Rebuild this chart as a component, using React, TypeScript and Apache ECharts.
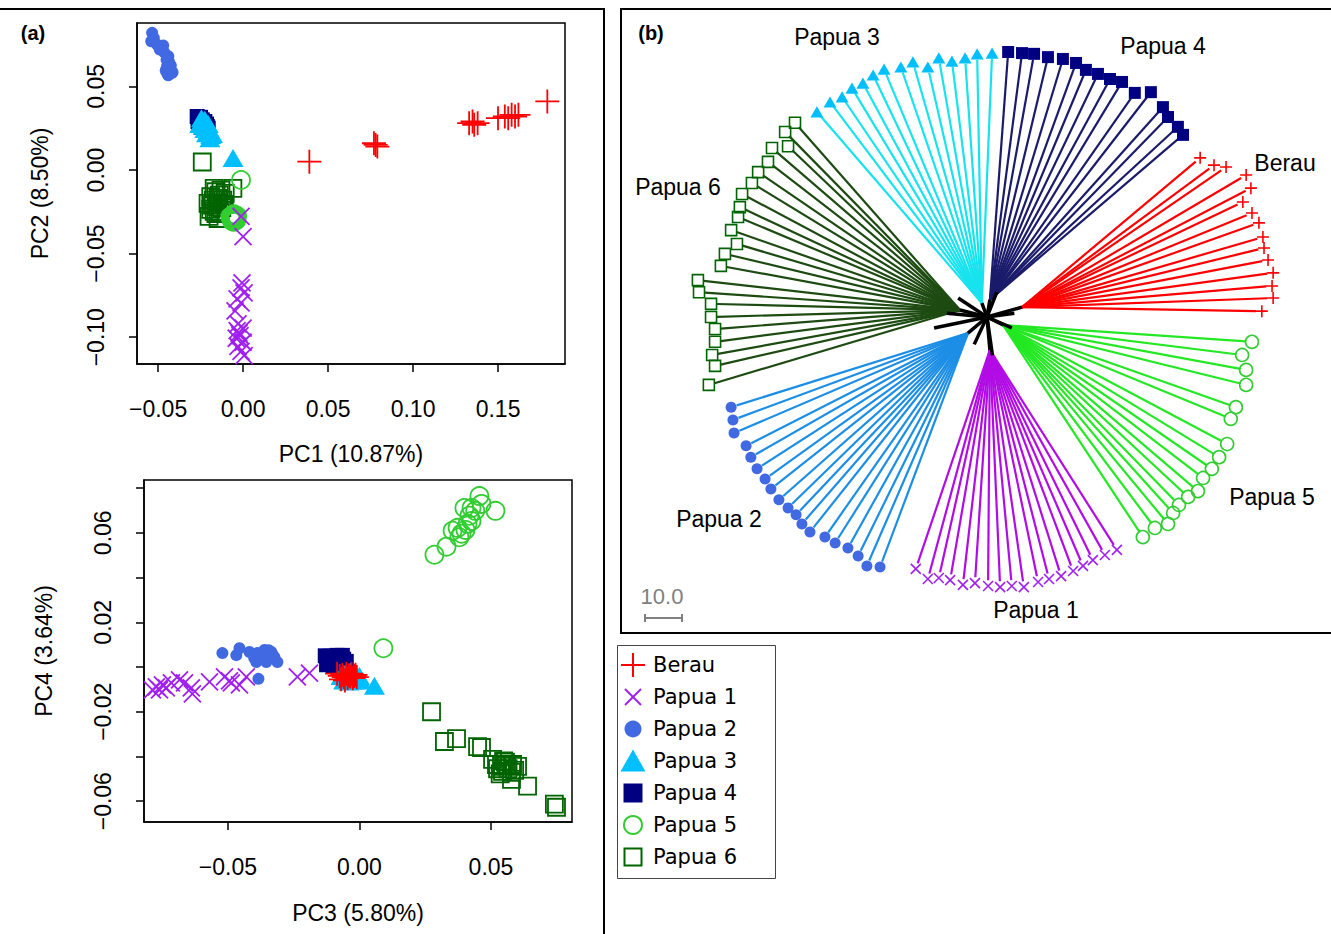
import React, { useEffect, useRef } from "react";
import * as echarts from "echarts";

// ---------------- groups ----------------
const GROUP_NAMES = ["Berau", "Papua 1", "Papua 2", "Papua 3", "Papua 4", "Papua 5", "Papua 6"];
const POINT_COLORS = ["#FF0000", "#A020F0", "#4169E1", "#00BFFF", "#000080", "#32CD32", "#006400"];
const BRANCH_COLORS = ["#FF0000", "#B20CE6", "#1C8EE6", "#17E3EE", "#1B1B6B", "#23E823", "#1D4B12"];
const SYMBOL_KINDS = ["plus", "cross", "circle", "triangle", "square", "ocircle", "osquare"];
const DRAW_ORDER = [4, 6, 2, 3, 5, 1, 0];

// ---------------- PCA: PC1 / PC2 ----------------
const berauPC12 = [[0.039,0.005],[0.077,0.016],[0.079,0.014],[0.078,0.015],[0.133,0.028],[0.136,0.027],[0.138,0.028],[0.135,0.029],[0.150,0.031],[0.154,0.032],[0.156,0.031],[0.158,0.033],[0.160,0.032],[0.162,0.033],[0.179,0.041]];
const papua1PC12 = [[-0.0012,-0.0277],[0.0,-0.0398],[-0.0006,-0.0675],[-0.0012,-0.0705],[0.0006,-0.0735],[-0.0035,-0.077],[-0.0012,-0.0795],[-0.0047,-0.0843],[-0.003,-0.092],[0.0,-0.0946],[-0.0024,-0.0976],[-0.004,-0.1006],[0.0,-0.103],[-0.003,-0.1054],[-0.0012,-0.1084],[0.0006,-0.111],[-0.0018,-0.099],[-0.0035,-0.096]];
const papua2PC12 = [[-0.0535,0.082],[-0.054,0.077],[-0.0506,0.075],[-0.048,0.0735],[-0.0465,0.0705],[-0.044,0.068],[-0.0435,0.0645],[-0.0447,0.062],[-0.042,0.058],[-0.044,0.0566],[-0.0525,0.079],[-0.049,0.072],[-0.045,0.066],[-0.043,0.060],[-0.0455,0.0595],[-0.047,0.0745],[-0.0425,0.0625],[-0.0445,0.0575],[-0.0415,0.0585]];
const papua3PC12 = [[-0.0245,0.031],[-0.0235,0.029],[-0.022,0.028],[-0.0255,0.0275],[-0.021,0.026],[-0.0225,0.0245],[-0.020,0.023],[-0.019,0.021],[-0.0215,0.022],[-0.0195,0.019],[-0.0235,0.0265],[-0.0205,0.0275],[-0.0225,0.030],[-0.018,0.0215],[-0.0059,0.0072]];
const papua4PC12 = [[-0.027,0.032],[-0.026,0.031],[-0.025,0.0315],[-0.0265,0.029],[-0.024,0.030],[-0.0255,0.027],[-0.023,0.028],[-0.022,0.0265],[-0.021,0.026],[-0.0245,0.0255],[-0.026,0.0285],[-0.0225,0.029],[-0.0235,0.027],[-0.0215,0.0275],[-0.025,0.030],[-0.0205,0.025]];
const papua5PC12 = [[-0.0012,-0.006],[-0.0055,-0.028],[-0.0045,-0.027],[-0.006,-0.0295],[-0.005,-0.030],[-0.0065,-0.0275],[-0.004,-0.0285],[-0.0055,-0.0265],[-0.007,-0.029],[-0.0035,-0.0275],[-0.005,-0.0285],[-0.006,-0.027],[-0.0045,-0.0295],[-0.0075,-0.028],[-0.004,-0.030],[-0.0055,-0.031],[-0.0065,-0.0305]];
const papua6PC12 = [[-0.024,0.0048],[-0.017,-0.011],[-0.006,-0.011],[-0.0206,-0.020],[-0.0147,-0.017],[-0.017,-0.0247],[-0.020,-0.0277],[-0.011,-0.0205],[-0.0147,-0.029],[-0.016,-0.013],[-0.013,-0.012],[-0.019,-0.016],[-0.018,-0.021],[-0.015,-0.022],[-0.012,-0.018],[-0.016,-0.026],[-0.0135,-0.0255],[-0.019,-0.0235],[-0.0125,-0.0225],[-0.014,-0.015],[-0.0175,-0.018],[-0.0155,-0.0195],[-0.0105,-0.014]];

// ---------------- PCA: PC3 / PC4 ----------------
const berauPC34 = [[-0.0085,-0.003],[-0.0075,-0.004],[-0.0065,-0.0035],[-0.006,-0.0045],[-0.005,-0.003],[-0.0045,-0.005],[-0.004,-0.0038],[-0.0035,-0.0042],[-0.003,-0.003],[-0.0025,-0.005],[-0.002,-0.004],[-0.0015,-0.0035],[-0.001,-0.0045],[-0.0055,-0.006],[-0.007,-0.0055]];
const papua1PC34 = [[-0.0772,-0.0089],[-0.076,-0.0102],[-0.0749,-0.008],[-0.0734,-0.0093],[-0.0684,-0.0058],[-0.0665,-0.0071],[-0.0639,-0.0093],[-0.0635,-0.012],[-0.057,-0.0067],[-0.0513,-0.0044],[-0.0494,-0.0062],[-0.0456,-0.008],[-0.043,-0.0044],[-0.0236,-0.0044],[-0.019,-0.0027],[-0.0787,-0.0102],[-0.0715,-0.0071],[-0.0487,-0.0071]];
const papua2PC34 = [[-0.0521,0.0062],[-0.0468,0.0053],[-0.0456,0.0084],[-0.0418,0.0067],[-0.0388,0.0062],[-0.0361,0.0076],[-0.0335,0.0067],[-0.0323,0.0044],[-0.0354,0.0022],[-0.0392,0.0022],[-0.0312,0.0022],[-0.0384,-0.0053],[-0.037,0.005],[-0.034,0.004],[-0.036,0.0065],[-0.033,0.0055],[-0.040,0.004],[-0.0345,0.0075],[-0.0375,0.0035]];
const papua3PC34 = [[-0.007,-0.004],[-0.006,-0.006],[-0.005,-0.005],[-0.004,-0.0065],[-0.003,-0.0055],[-0.002,-0.006],[-0.001,-0.005],[0.0,-0.004],[-0.0035,-0.002],[-0.0055,-0.003],[-0.0015,-0.003],[0.0005,-0.006],[-0.0045,-0.0045],[-0.0025,-0.0045],[0.0057,-0.0084]];
const papua4PC34 = [[-0.013,0.005],[-0.012,0.0035],[-0.011,0.0048],[-0.0105,0.002],[-0.0095,0.004],[-0.009,0.001],[-0.008,0.003],[-0.0075,0.0045],[-0.007,0.0015],[-0.006,0.0035],[-0.0055,0.001],[-0.005,0.0025],[-0.0125,0.001],[-0.0085,0.0052],[-0.0065,0.0052],[-0.01,0.0005]];
const papua5PC34 = [[0.0285,0.0502],[0.0331,0.0538],[0.0354,0.0609],[0.0388,0.0596],[0.0373,0.0622],[0.0411,0.064],[0.0426,0.0653],[0.0399,0.0711],[0.0426,0.0711],[0.0456,0.0764],[0.0464,0.0729],[0.0517,0.0698],[0.0091,0.0084],[0.038,0.058],[0.0403,0.0613],[0.0418,0.0676],[0.044,0.0698]];
const papua6PC34 = [[0.0274,-0.020],[0.0323,-0.0333],[0.0369,-0.032],[0.0449,-0.0356],[0.0464,-0.036],[0.0506,-0.0413],[0.0521,-0.0436],[0.054,-0.0444],[0.0559,-0.0436],[0.0582,-0.0436],[0.0601,-0.0444],[0.0544,-0.0467],[0.0578,-0.0471],[0.0578,-0.0502],[0.0639,-0.0533],[0.0741,-0.0613],[0.0749,-0.0627],[0.0525,-0.0455],[0.0565,-0.0455],[0.0555,-0.0425],[0.0535,-0.0478],[0.059,-0.0462],[0.0548,-0.042]];

// ---------------- axes ----------------
const AXIS_TITLES = ["PC1 (10.87%)", "PC2 (8.50%)", "PC3 (5.80%)", "PC4 (3.64%)"];
const PC1_TICKS = [-0.05, 0, 0.05, 0.1, 0.15];
const PC2_TICKS = [-0.1, -0.05, 0, 0.05];
const PC3_TICKS = [-0.05, 0, 0.05];
const PC4_TICKS = [-0.06, -0.04, -0.02, 0, 0.02, 0.04, 0.06, 0.08];
const PC4_LABELS = [-0.06, -0.02, 0.02, 0.06];

// ---------------- tree (branch-length units) ----------------
const TREE_ROOT = [0, 0];
const TREE_NODES = [[9.6,2.7],[0.8,-9.0],[-5.2,-4.4],[-1.4,3.8],[0.8,4.7],[4.4,-2.2],[-7.4,1.9]];
const TREE_STUBS = [[-14.5,-3.0],[-7.9,5.2],[2.7,6.8],[6.8,-3.0],[-3.5,-7.5],[-11.0,1.0],[1.5,-10.5],[7.5,1.0]];
const berauTips = [[58.4,43.6],[62.2,41.6],[65.5,41.1],[71.0,38.9],[72.3,35.3],[70.1,31.5],[72.6,28.5],[74.5,25.8],[75.6,21.9],[75.9,18.9],[77.0,15.6],[78.4,12.1],[78.1,8.5],[78.4,5.2],[75.3,1.6]];
const papua1Tips = [[-19.5,-69.0],[-16.2,-71.8],[-13.2,-71.5],[-10.1,-72.1],[-6.6,-73.4],[-3.3,-72.9],[0.3,-73.7],[3.6,-74.0],[6.8,-73.7],[10.1,-74.0],[14.0,-72.6],[17.0,-71.8],[20.3,-71.0],[23.6,-69.6],[26.3,-68.2],[29.0,-66.6],[32.3,-65.2],[35.6,-63.8]];
const papua2Tips = [[-70.1,-24.7],[-69.6,-28.2],[-69.3,-31.8],[-66.0,-35.3],[-64.7,-38.4],[-63.0,-41.6],[-60.8,-44.4],[-59.2,-47.1],[-57.0,-50.1],[-54.5,-52.3],[-52.3,-54.2],[-50.7,-56.7],[-48.5,-58.9],[-44.4,-60.3],[-41.6,-61.9],[-38.1,-63.3],[-35.3,-65.5],[-32.9,-68.2],[-29.3,-68.5]];
const papua3Tips = [[-46.6,56.2],[-43.0,58.9],[-39.7,60.3],[-37.0,62.7],[-34.0,64.1],[-31.2,66.3],[-28.2,67.9],[-23.6,68.5],[-20.3,69.9],[-16.2,68.5],[-13.2,71.0],[-9.6,70.1],[-6.0,71.0],[-2.7,72.1],[1.4,72.3]];
const papua4Tips = [[5.8,72.6],[9.6,72.3],[12.9,72.1],[16.7,71.2],[20.8,70.7],[24.4,69.6],[27.1,67.7],[30.4,66.6],[33.7,65.2],[37.0,64.4],[40.5,61.4],[44.9,61.6],[48.2,57.5],[49.6,54.8],[52.3,52.1],[53.7,49.9]];
const papua5Tips = [[72.6,-6.8],[69.9,-10.4],[71.0,-14.5],[71.0,-18.6],[68.2,-24.7],[66.8,-27.9],[65.8,-34.8],[63.6,-38.4],[61.6,-41.6],[59.2,-44.1],[57.8,-47.7],[55.1,-49.3],[52.6,-51.5],[51.0,-53.7],[49.6,-56.7],[46.0,-57.8],[42.7,-60.3]];
const papua6Tips = [[-52.6,53.2],[-55.3,50.7],[-54.5,46.8],[-58.9,46.3],[-60.0,42.5],[-62.7,39.7],[-64.4,36.7],[-67.1,33.7],[-67.7,30.1],[-68.2,27.4],[-70.1,23.8],[-68.5,20.0],[-71.8,17.3],[-72.9,14.0],[-79.2,10.1],[-78.9,6.8],[-75.6,3.6],[-75.6,0.0],[-74.5,-3.3],[-74.5,-6.8],[-75.3,-10.4],[-74.5,-13.4],[-76.2,-18.6]];
const SCALE_BAR_LENGTH = 10;
const SCALE_BAR_LABEL = "10.0";

const PC12 = [berauPC12, papua1PC12, papua2PC12, papua3PC12, papua4PC12, papua5PC12, papua6PC12];
const PC34 = [berauPC34, papua1PC34, papua2PC34, papua3PC34, papua4PC34, papua5PC34, papua6PC34];
const TIPS = [berauTips, papua1Tips, papua2Tips, papua3Tips, papua4Tips, papua5Tips, papua6Tips];

// ---------------- styling helpers ----------------
const FONT = '"Liberation Sans", Arial, Helvetica, sans-serif';
const LEGEND_FONT = '"DejaVu Sans", Verdana, sans-serif';
const PLUS_PATH = "path://M0,5L10,5M5,0L5,10";
const CROSS_PATH = "path://M0,0L10,10M10,0L0,10";

function symbolSpec(kind: string, color: string, s: number, lw: number) {
  const open = { color: "rgba(0,0,0,0)", borderColor: color, borderWidth: lw, opacity: 1 };
  const filled = { color, opacity: 1 };
  switch (kind) {
    case "plus": return { symbol: PLUS_PATH, symbolSize: s, itemStyle: open };
    case "cross": return { symbol: CROSS_PATH, symbolSize: s, itemStyle: open };
    case "circle": return { symbol: "circle", symbolSize: s, itemStyle: filled };
    case "triangle": return { symbol: "triangle", symbolSize: [s, s * 0.86], itemStyle: filled };
    case "square": return { symbol: "rect", symbolSize: s, itemStyle: filled };
    case "ocircle": return { symbol: "circle", symbolSize: s, itemStyle: open };
    default: return { symbol: "rect", symbolSize: s, itemStyle: open };
  }
}
const SCATTER_SIZES: Record<string, number> = { plus: 24, cross: 17, circle: 12, triangle: 21, square: 15, ocircle: 18, osquare: 17 };
const TREE_SIZES: Record<string, number> = { plus: 12, cross: 10, circle: 11, triangle: 13, square: 12, ocircle: 13, osquare: 11 };

const fmt = (v: number) => (Math.abs(v) < 1e-9 ? "0.00" : (v < 0 ? "\u2212" : "") + Math.abs(v).toFixed(2));

function pcAxis(dim: "x" | "y", gridIndex: number, min: number, max: number, ticks: number[], labels: number[], title: string, nameGap: number) {
  return {
    type: "value", gridIndex, min, max,
    position: dim === "x" ? "bottom" : "left",
    axisLine: { show: true, onZero: false, lineStyle: { color: "#000", width: 1.5 } },
    axisTick: { show: true, length: 8, inside: false, customValues: ticks, lineStyle: { color: "#000", width: 1.5 } },
    axisLabel: { show: true, customValues: labels, margin: dim === "x" ? 33 : 30, rotate: dim === "y" ? 90 : 0, color: "#000", fontSize: 23, fontFamily: FONT, formatter: fmt },
    splitLine: { show: false },
    name: title, nameLocation: "middle", nameGap, nameRotate: dim === "y" ? 90 : 0,
    nameTextStyle: { color: "#000", fontSize: 23, fontFamily: FONT },
  };
}

function legendSymbol(kind: string, color: string, cx: number, cy: number): any[] {
  const lw = 2;
  switch (kind) {
    case "plus": return [
      { type: "line", shape: { x1: cx - 12, y1: cy, x2: cx + 12, y2: cy }, style: { stroke: color, lineWidth: lw } },
      { type: "line", shape: { x1: cx, y1: cy - 12, x2: cx, y2: cy + 12 }, style: { stroke: color, lineWidth: lw } }];
    case "cross": return [
      { type: "line", shape: { x1: cx - 8, y1: cy - 8, x2: cx + 8, y2: cy + 8 }, style: { stroke: color, lineWidth: lw } },
      { type: "line", shape: { x1: cx - 8, y1: cy + 8, x2: cx + 8, y2: cy - 8 }, style: { stroke: color, lineWidth: lw } }];
    case "circle": return [{ type: "circle", shape: { cx, cy, r: 8.5 }, style: { fill: color } }];
    case "triangle": return [{ type: "polygon", shape: { points: [[cx - 12.5, cy + 10.5], [cx + 12.5, cy + 10.5], [cx, cy - 11.5]] }, style: { fill: color } }];
    case "square": return [{ type: "rect", shape: { x: cx - 9.5, y: cy - 9.5, width: 19, height: 19 }, style: { fill: color } }];
    case "ocircle": return [{ type: "circle", shape: { cx, cy, r: 9 }, style: { fill: "none", stroke: color, lineWidth: lw } }];
    default: return [{ type: "rect", shape: { x: cx - 8.5, y: cy - 8.5, width: 17, height: 17 }, style: { fill: "none", stroke: color, lineWidth: lw } }];
  }
}

function txt(text: string, x: number, y: number, size: number, opts: any = {}) {
  return {
    type: "text", x, y, z: 10,
    style: {
      text, fill: opts.fill || "#000", fontSize: size, fontFamily: opts.family || FONT, fontWeight: opts.weight || "normal",
      align: opts.align || "center", verticalAlign: "middle", textAlign: opts.align || "center", textVerticalAlign: "middle",
    },
  };
}

export default function App() {
  const ref = useRef<HTMLDivElement>(null);
  useEffect(() => {
    if (!ref.current) return;
    const chart = echarts.init(ref.current, null, { renderer: "svg" });

    const series: any[] = [];
    // PCA scatter series
    DRAW_ORDER.forEach((g) => {
      const kind = SYMBOL_KINDS[g];
      const spec = symbolSpec(kind, POINT_COLORS[g], SCATTER_SIZES[kind], 1.8);
      series.push({ type: "scatter", name: GROUP_NAMES[g], xAxisIndex: 0, yAxisIndex: 0, data: PC12[g], silent: true, ...spec, z: 2 });
      series.push({ type: "scatter", name: GROUP_NAMES[g], xAxisIndex: 1, yAxisIndex: 1, data: PC34[g], silent: true, ...spec, z: 2 });
    });

    // tree terminal branches
    const TIP_GAP = 1.6;
    TIPS.forEach((tips, g) => {
      const node = TREE_NODES[g];
      const data = tips.map((t) => {
        const dx = t[0] - node[0], dy = t[1] - node[1];
        const L = Math.hypot(dx, dy);
        const end = [t[0] - (dx / L) * TIP_GAP, t[1] - (dy / L) * TIP_GAP];
        return { coords: [node, end] };
      });
      series.push({
        type: "lines", coordinateSystem: "cartesian2d", xAxisIndex: 2, yAxisIndex: 2, silent: true, z: 3,
        data, lineStyle: { color: BRANCH_COLORS[g], width: 2.2, opacity: 1 },
      });
    });
    // internal branches
    const internal = [...TREE_NODES, ...TREE_STUBS].map((n) => ({ coords: [TREE_ROOT, n] }));
    series.push({
      type: "lines", coordinateSystem: "cartesian2d", xAxisIndex: 2, yAxisIndex: 2, silent: true, z: 5,
      data: internal, lineStyle: { color: "#000", width: 3.5, opacity: 1 },
    });
    // tips
    TIPS.forEach((tips, g) => {
      const kind = SYMBOL_KINDS[g];
      const spec = symbolSpec(kind, POINT_COLORS[g], TREE_SIZES[kind], 1.6);
      series.push({ type: "scatter", xAxisIndex: 2, yAxisIndex: 2, data: tips, silent: true, z: 4, ...spec });
    });
    // scale bar (tree units)
    const sb = [-93.7, -82.5];
    const cap = 1.1;
    series.push({
      type: "lines", coordinateSystem: "cartesian2d", xAxisIndex: 2, yAxisIndex: 2, silent: true, z: 5,
      data: [
        { coords: [sb, [sb[0] + SCALE_BAR_LENGTH, sb[1]]] },
        { coords: [[sb[0], sb[1] - cap], [sb[0], sb[1] + cap]] },
        { coords: [[sb[0] + SCALE_BAR_LENGTH, sb[1] - cap], [sb[0] + SCALE_BAR_LENGTH, sb[1] + cap]] },
      ],
      lineStyle: { color: "#808080", width: 2, opacity: 1 },
    });

    // graphic: frames, labels, legend
    const graphics: any[] = [
      { type: "polyline", shape: { points: [[0, 9], [604, 9], [604, 940]] }, style: { stroke: "#000", lineWidth: 2, fill: "none" } },
      { type: "rect", shape: { x: 621, y: 9, width: 720, height: 624 }, style: { stroke: "#000", lineWidth: 2, fill: "none" } },
      txt("(a)", 33, 33, 20, { weight: "bold" }),
      txt("(b)", 651, 33, 20, { weight: "bold" }),
      txt(SCALE_BAR_LABEL, 662, 596, 22, { fill: "#808080" }),
    ];
    const treeLabelPos = [[1285, 163], [1036, 610], [719, 519], [837, 37], [1163, 46], [1272, 497], [678, 187]];
    GROUP_NAMES.forEach((n, g) => graphics.push(txt(n, treeLabelPos[g][0], treeLabelPos[g][1], 23)));
    graphics.push({ type: "rect", shape: { x: 617.5, y: 645.5, width: 158, height: 233 }, style: { stroke: "#444", lineWidth: 1, fill: "none" } });
    GROUP_NAMES.forEach((n, g) => {
      const cy = 665 + 32 * g;
      legendSymbol(SYMBOL_KINDS[g], POINT_COLORS[g], 633, cy).forEach((e) => graphics.push({ ...e, z: 10 }));
      graphics.push(txt(n, 653, cy, 21, { align: "left", family: LEGEND_FONT }));
    });

    const option: any = {
      animation: false,
      backgroundColor: "#fff",
      grid: [
        { left: 137, top: 23, width: 428, height: 341, show: true, borderColor: "#000", borderWidth: 1.5, backgroundColor: "transparent" },
        { left: 144, top: 480, width: 428, height: 342, show: true, borderColor: "#000", borderWidth: 1.5, backgroundColor: "transparent" },
        { left: 621, top: 8, width: 710, height: 625, show: false },
      ],
      xAxis: [
        pcAxis("x", 0, -0.0624, 0.1894, PC1_TICKS, PC1_TICKS, AXIS_TITLES[0], 78),
        pcAxis("x", 1, -0.0819, 0.0808, PC3_TICKS, PC3_TICKS, AXIS_TITLES[2], 79),
        { type: "value", gridIndex: 2, min: -100.27, max: 94.25, show: false },
      ],
      yAxis: [
        pcAxis("y", 0, -0.116, 0.0879, PC2_TICKS, PC2_TICKS, AXIS_TITLES[1], 86),
        pcAxis("y", 1, -0.0693, 0.0836, PC4_TICKS, PC4_LABELS, AXIS_TITLES[3], 89),
        { type: "value", gridIndex: 2, min: -86.58, max: 84.66, show: false },
      ],
      series,
      graphic: { elements: graphics },
    };
    chart.setOption(option);
    return () => chart.dispose();
  }, []);
  return <div ref={ref} style={{ position: "absolute", left: 0, top: 0, width: 1331, height: 934 }} />;
}
